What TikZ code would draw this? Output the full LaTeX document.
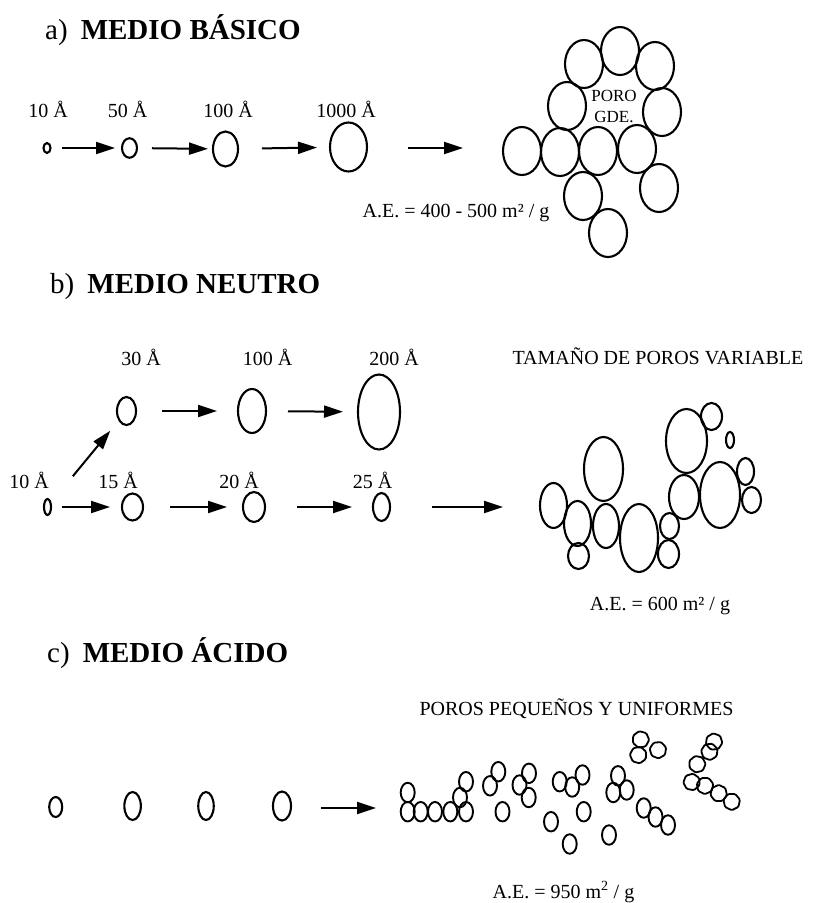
\documentclass[tikz,border=0pt]{standalone}
\usepackage{fontspec}
\setmainfont{Liberation Serif}
\usetikzlibrary{arrows.meta,shapes.geometric}
% pore outline: name, centre, width, height
\newcommand\poro[4]{\node[pore, minimum width=#3pt, minimum height=#4pt] (#1) at (#2) {};}
% small pore of the acid series
\newcommand\grano[2]{\node[pore, line width=1.9pt, minimum width=14pt, minimum height=19.5pt] (#1) at (#2) {};}
% rough small pore drawn as a polygon
\newcommand\grumo[3]{\node[pore poly, rotate=#3] (#1) at (#2) {};}
\begin{document}
\begin{tikzpicture}[x=1pt,y=-1pt,
  pore/.style={draw, ellipse, line width=2.1pt, inner sep=0pt, outer sep=0pt},
  pore poly/.style={draw, regular polygon, regular polygon sides=7, minimum size=17pt,
    inner sep=0pt, outer sep=0pt, line width=1.8pt, rounded corners=1.2pt},
  arr/.style={line width=2pt, -{Triangle[length=19pt,width=12pt]}},
  lbl/.style={anchor=base, inner sep=0pt, font=\fontsize{20}{22}\selectfont},
  ttl/.style={anchor=base west, inner sep=0pt, font=\fontsize{29}{32}\selectfont},
]
\useasboundingbox (0,0) rectangle (815,903);
\fill[white] (0,0) rectangle (815,903);

% ---------------- a) basic medium ----------------
\node[ttl] (ta) at (45,39) {a)\hspace{0.45em}\textbf{MEDIO BÁSICO}};
\node[lbl] (la1) at (48,117) {10 Å};
\node[lbl] (la2) at (127.5,117) {50 Å};
\node[lbl] (la3) at (228,117) {100 Å};
\node[lbl] (la4) at (346,117) {1000 Å};
\poro{a1}{47,148}{7}{10}
\poro{a2}{129.5,148}{15}{19.5}
\poro{a3}{225.5,149}{25}{35}
\poro{a4}{348.5,147}{37}{49}
\draw[arr, shorten <=11.5pt, shorten >=7pt] (a1) -- (a2);
\draw[arr, shorten <=15pt, shorten >=5pt] (a2) -- (a3);
\draw[arr, shorten <=24pt, shorten >=13pt] (a3) -- (a4);
\coordinate (a5s) at (408,148);
\coordinate (a5e) at (463,148);
\draw[arr] (a5s) -- (a5e);

% large-pore cluster
\foreach \n/\p in {1/{584,64}, 2/{620,51}, 3/{655,66}, 4/{567,106}, 5/{662,112},
                   6/{522,151}, 7/{560,152}, 8/{598,151}, 9/{637,149},
                   10/{659,188}, 11/{583,196}, 12/{608,233}}
  {\poro{ka\n}{\p}{38}{48}}
\node[inner sep=0pt, align=center, font=\fontsize{17}{21}\selectfont] (pg) at (614,106) {PORO\\GDE.};
\node[lbl] (aea) at (456,217) {A.E. = 400 - 500 m² / g};

% ---------------- b) neutral medium ----------------
\node[ttl] (tb) at (50,293) {b)\hspace{0.45em}\textbf{MEDIO NEUTRO}};
\node[lbl] (lb1) at (141,365) {30 Å};
\node[lbl] (lb2) at (267.5,365) {100 Å};
\node[lbl] (lb3) at (394,365) {200 Å};
\node[lbl] (lb4) at (29,488) {10 Å};
\node[lbl] (lb5) at (118,488) {15 Å};
\node[lbl] (lb6) at (239,488) {20 Å};
\node[lbl] (lb7) at (372.5,488) {25 Å};
\poro{bu1}{126.5,411}{19}{28}
\poro{bu2}{252,411}{28}{44}
\poro{bu3}{379,412}{42}{75}
\poro{bl0}{47.5,507}{7}{16}
\poro{bl1}{132.5,507}{21}{27}
\poro{bl2}{254,507}{22}{30}
\poro{bl3}{381.5,507}{17}{28}
\draw[arr, shorten <=26pt, shorten >=21pt] (bu1) -- (bu2);
\draw[arr, shorten <=22pt, shorten >=15pt] (bu2) -- (bu3);
\draw[arr, shorten <=35pt, shorten >=14pt] (bl0) -- (bu1);
\draw[arr, shorten <=11pt, shorten >=12pt] (bl0) -- (bl1);
\draw[arr, shorten <=27pt, shorten >=16pt] (bl1) -- (bl2);
\draw[arr, shorten <=32pt, shorten >=21pt] (bl2) -- (bl3);
\coordinate (b5s) at (432,507);
\coordinate (b5e) at (503,507);
\draw[arr] (b5s) -- (b5e);

\node[lbl] (tv) at (658,364) {TAMAÑO DE POROS VARIABLE};
% mixed-size cluster
\poro{kb1}{553.5,505.5}{27}{45}
\poro{kb2}{577.5,523.5}{27}{45}
\poro{kb3}{578.5,556}{21}{26}
\poro{kb4}{603.5,469}{39}{64}
\poro{kb5}{606,526}{26}{44}
\poro{kb6}{639,538}{38}{68}
\poro{kb7}{669.5,526}{19}{26}
\poro{kb8}{668.5,554}{21}{28}
\poro{kb9}{686.5,441}{41}{64}
\poro{kb10}{711.5,416.5}{21}{27}
\poro{kb11}{730,440}{8}{16}
\poro{kb12}{684,497}{30}{44}
\poro{kb13}{720,495}{40}{66}
\poro{kb14}{745.5,471.5}{17}{27}
\poro{kb15}{751.5,500}{19}{26}
\node[lbl] (aeb) at (660,610) {A.E. = 600 m² / g};

% ---------------- c) acid medium ----------------
\node[ttl] (tc) at (47,662) {c)\hspace{0.45em}\textbf{MEDIO ÁCIDO}};
\poro{c1}{55.7,807}{13}{20}
\poro{c2}{132.6,806}{16.5}{28}
\poro{c3}{206,806}{15.5}{28}
\poro{c4}{282,806}{18}{29}
\coordinate (c5s) at (321,808);
\coordinate (c5e) at (376,808);
\draw[arr] (c5s) -- (c5e);
\node[lbl] (tp) at (576.5,715) {POROS PEQUEÑOS Y UNIFORMES};

% small uniform pores
\foreach \n/\p in {1/{407.7,792.5}, 2/{407.7,811.7}, 3/{420.7,811.7}, 4/{435,811.7},
                   5/{450.3,811.7}, 6/{466,811.7}, 7/{460,797.5}, 8/{466,781.7},
                   9/{490,785.8}, 10/{498.3,771.7}, 11/{502.5,811.7},
                   12/{519.5,785}, 13/{529,773.3}, 14/{528.7,797.5},
                   15/{559.7,781.7}, 16/{572.2,787}, 17/{582.5,775}, 18/{583.7,811.7},
                   19/{551,821.7}, 20/{569.7,844},
                   21/{618,775.8}, 22/{613.3,792.5}, 23/{626.7,790}, 24/{609,835},
                   25/{643.7,808}, 26/{655.5,817}, 27/{668,825}}
  {\grano{kc\n}{\p}}
\grumo{kp1}{640.7,739.5}{10}
\grumo{kp2}{638.3,755}{-15}
\grumo{kp3}{658,750}{30}
\grumo{kp4}{714,741.7}{5}
\grumo{kp5}{709.5,751.7}{-20}
\grumo{kp6}{697.2,764.2}{15}
\grumo{kp7}{691.7,782}{-10}
\grumo{kp8}{705,785.7}{25}
\grumo{kp9}{718.7,793.3}{0}
\grumo{kp10}{731.7,801.7}{-25}
\node[lbl] (aec) at (563.5,898) {A.E. = 950 m\textsuperscript{2} / g};
\end{tikzpicture}
\end{document}
